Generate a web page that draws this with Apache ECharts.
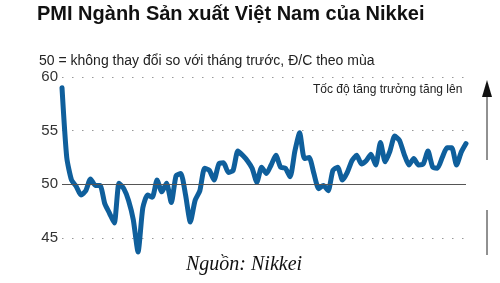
<!DOCTYPE html>
<html><head><meta charset="utf-8">
<script src="https://cdn.jsdelivr.net/npm/echarts@6/dist/echarts.min.js"></script>
<style>html,body{margin:0;padding:0;background:#fff}#c{width:500px;height:283px}</style>
</head><body><div id="c"></div>
<script>
const pmiValues = [59.0,52.5,50.4,49.8,49.0,49.4,50.5,49.9,49.9,48.2,47.3,46.4,50.1,49.6,48.5,46.7,43.7,47.8,49.0,48.8,50.4,49.3,50.1,48.3,50.8,51.0,49.0,46.5,48.5,49.4,51.5,51.3,50.4,51.9,52.0,51.1,51.3,53.1,52.7,52.2,51.5,50.2,51.6,51.0,51.8,52.7,51.6,51.5,50.7,53.1,54.8,52.4,52.5,51.0,49.6,49.9,49.4,51.3,51.6,50.4,51.1,52.2,52.7,51.9,52.2,52.8,51.8,53.9,52.1,53.1,54.5,54.1,52.8,51.8,52.4,51.8,51.9,53.1,51.6,51.5,52.5,53.4,53.4,51.8,53.0,53.8];
const categories = pmiValues.map((_, i) => 'T' + (i + 1));
const yTicks = [45, 50, 55, 60];
const titleText = 'PMI Ngành Sản xuất Việt Nam của Nikkei';
const subtitleText = '50 = không thay đổi so với tháng trước, Đ/C theo mùa';
const noteText = 'Tốc độ tăng trưởng tăng lên';
const sourceText = 'Nguồn: Nikkei';

const chart = echarts.init(document.getElementById('c'), null, {renderer: 'canvas'});
chart.setOption({
  animation: false,
  title: [
    {text: titleText, left: 32, top: -1, textStyle: {fontFamily: 'Liberation Sans', fontWeight: 'bold', fontSize: 20, color: '#111'}},
    {text: subtitleText, left: 34, top: 49, textStyle: {fontFamily: 'Liberation Sans', fontWeight: 'normal', fontSize: 14, color: '#222'}},
    {text: sourceText, left: 181, top: 250, textStyle: {fontFamily: 'Liberation Serif', fontStyle: 'italic', fontWeight: 'normal', fontSize: 20, color: '#111'}}
  ],
  grid: {left: 62, right: 34, top: 77, bottom: 45},
  xAxis: {type: 'category', data: categories, boundaryGap: false, show: false},
  yAxis: {
    type: 'value', min: 45, max: 60, interval: 5,
    axisLine: {show: false}, axisTick: {show: false},
    axisLabel: {fontFamily: 'Liberation Sans', fontSize: 15, color: '#333', margin: 4,
      formatter: v => yTicks.includes(v) ? String(v) : ''},
    splitLine: {show: true, lineStyle: {color: '#999', width: 1, type: [1.5, 8.5]}}
  },
  series: [{
    type: 'line', data: pmiValues, symbol: 'none', clip: false, smooth: 0.2,
    lineStyle: {color: '#0f5f9c', width: 5, join: 'round', cap: 'round'},
    markLine: {silent: true, symbol: 'none', label: {show: false},
      lineStyle: {color: '#555', type: 'solid', width: 1},
      data: [{yAxis: 50}]},
    z: 3
  }],
  graphic: [
    {type: 'text', left: 313, top: 84, style: {text: noteText, fontFamily: 'Liberation Sans', fontSize: 12, fill: '#222'}},
    {type: 'line', shape: {x1: 487, y1: 95, x2: 487, y2: 160}, style: {stroke: '#222', lineWidth: 1}},
    {type: 'polygon', shape: {points: [[487, 80], [482, 97], [492, 97]]}, style: {fill: '#111'}},
    {type: 'line', shape: {x1: 487, y1: 210, x2: 487, y2: 255}, style: {stroke: '#222', lineWidth: 1}}
  ]
});
</script></body></html>
